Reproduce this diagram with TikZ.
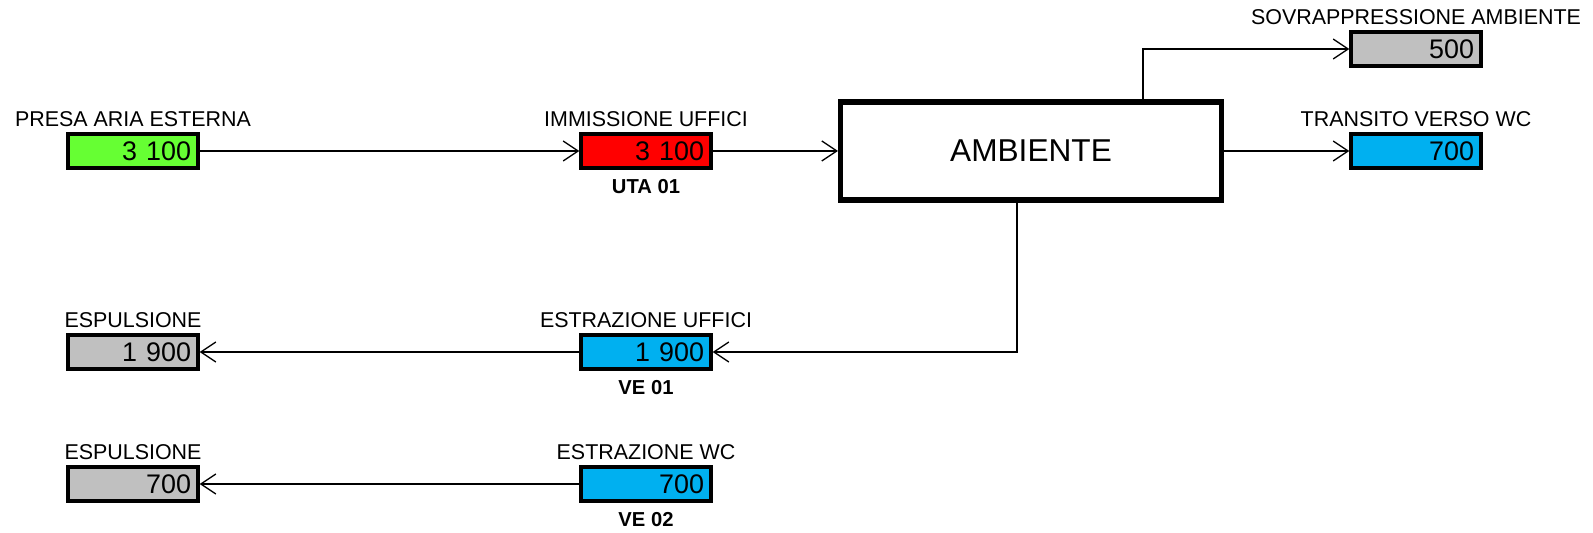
\documentclass[tikz,border=0pt]{standalone}
\usepackage{fontspec}
\setmainfont{Liberation Sans}
\usetikzlibrary{arrows.meta,positioning,calc}

\definecolor{airgreen}{RGB}{102,255,51}
\definecolor{airred}{RGB}{255,0,0}
\definecolor{airblue}{RGB}{0,176,240}
\definecolor{airgray}{RGB}{192,192,192}

\begin{document}
\begin{tikzpicture}[x=0.02cm,y=-0.02cm,
  flow/.style={draw,line width=1.9pt,minimum width=2.6cm,minimum height=0.68cm,
    text width=2.32cm,align=right,inner xsep=0.14cm,inner ysep=0pt,
    font=\fontsize{15.3}{15.3}\selectfont},
  lbl/.style={inner sep=0pt,font=\fontsize{12.2}{12.2}\selectfont},
  tag/.style={inner sep=0pt,font=\fontsize{11.5}{11.5}\selectfont\bfseries},
  conn/.style={line width=0.75pt,-{Straight Barb[length=0.3cm,width=0.4cm]}}]
  \useasboundingbox (0,0) rectangle (1593,533);

  % room
  \node[draw,line width=2.9pt,minimum width=7.62cm,minimum height=1.96cm,
    font=\fontsize{18}{18}\selectfont] (amb) at (1031,151) {AMBIENTE};

  % flow boxes
  \node[flow,fill=airgreen] (pae) at (133,151) {3 100};
  \node[flow,fill=airred] (uta) at (646,151) {3 100};
  \node[flow,fill=airgray] (sovr) at (1416,49) {500};
  \node[flow,fill=airblue] (wct) at (1416,151) {700};
  \node[flow,fill=airblue] (ve01) at (646,352) {1 900};
  \node[flow,fill=airgray] (esp1) at (133,352) {1 900};
  \node[flow,fill=airblue] (ve02) at (646,484) {700};
  \node[flow,fill=airgray] (esp2) at (133,484) {700};

  % labels
  \node[lbl,above=0.11cm of pae] (pae-l) {PRESA ARIA ESTERNA};
  \node[lbl,above=0.11cm of uta] (uta-l) {IMMISSIONE UFFICI};
  \node[lbl,above=0.11cm of sovr] (sovr-l) {SOVRAPPRESSIONE AMBIENTE};
  \node[lbl,above=0.11cm of wct] (wct-l) {TRANSITO VERSO WC};
  \node[lbl,above=0.11cm of ve01] (ve01-l) {ESTRAZIONE UFFICI};
  \node[lbl,above=0.11cm of esp1] (esp1-l) {ESPULSIONE};
  \node[lbl,above=0.11cm of ve02] (ve02-l) {ESTRAZIONE WC};
  \node[lbl,above=0.11cm of esp2] (esp2-l) {ESPULSIONE};

  \node[tag,below=0.19cm of uta] (uta-t) {UTA 01};
  \node[tag,below=0.19cm of ve01] (ve01-t) {VE 01};
  \node[tag,below=0.19cm of ve02] (ve02-t) {VE 02};

  % connectors
  \coordinate (upx) at (1143,0);
  \coordinate (dnx) at (1017,0);
  \draw[conn] (pae) -- (uta);
  \draw[conn] (uta) -- (amb);
  \draw[conn] (amb.north -| upx) |- (sovr);
  \draw[conn] (amb) -- (wct);
  \draw[conn] (amb.south -| dnx) |- (ve01);
  \draw[conn] (ve01) -- (esp1);
  \draw[conn] (ve02) -- (esp2);
\end{tikzpicture}
\end{document}
